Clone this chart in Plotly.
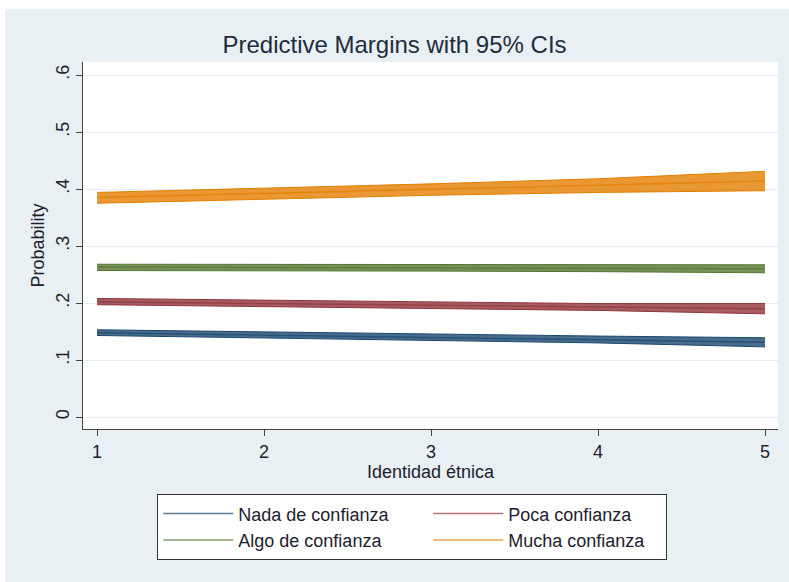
import plotly.graph_objects as go

# Data
x_vals = [1, 2, 3, 4, 5]
series_names = ["Nada de confianza", "Poca confianza", "Algo de confianza", "Mucha confianza"]
nada_mid = [0.148, 0.144, 0.140, 0.136, 0.131]
nada_lo = [0.143, 0.139, 0.135, 0.130, 0.123]
nada_hi = [0.153, 0.149, 0.145, 0.142, 0.139]
poca_mid = [0.202, 0.199, 0.196, 0.193, 0.190]
poca_lo = [0.197, 0.194, 0.191, 0.187, 0.181]
poca_hi = [0.208, 0.205, 0.202, 0.199, 0.199]
algo_mid = [0.263, 0.262, 0.262, 0.261, 0.260]
algo_lo = [0.257, 0.257, 0.256, 0.255, 0.253]
algo_hi = [0.268, 0.268, 0.267, 0.267, 0.267]
mucha_mid = [0.385, 0.392, 0.399, 0.406, 0.414]
mucha_lo = [0.375, 0.382, 0.389, 0.394, 0.397]
mucha_hi = [0.394, 0.401, 0.409, 0.418, 0.431]
y_tickvals = [0, 0.1, 0.2, 0.3, 0.4, 0.5, 0.6]
y_ticktext = ["0", ".1", ".2", ".3", ".4", ".5", ".6"]
x_tickvals = [1, 2, 3, 4, 5]

colors = [(26, 71, 111), (144, 53, 59), (85, 117, 47), (227, 126, 0)]
mids = [nada_mid, poca_mid, algo_mid, mucha_mid]
los = [nada_lo, poca_lo, algo_lo, mucha_lo]
his = [nada_hi, poca_hi, algo_hi, mucha_hi]
legend_widths = [None, 152, None, 152]

fig = go.Figure()
for name, c, mid, lo, hi in zip(series_names, colors, mids, los, his):
    rgb = "rgb(%d,%d,%d)" % c
    fig.add_trace(go.Scatter(x=x_vals, y=lo, mode="lines", line=dict(color=rgb, width=1),
                             showlegend=False, hoverinfo="skip"))
    fig.add_trace(go.Scatter(x=x_vals, y=hi, mode="lines", line=dict(color=rgb, width=1),
                             fill="tonexty", fillcolor="rgba(%d,%d,%d,0.8)" % c,
                             showlegend=False, hoverinfo="skip"))
for name, c, mid, lw in zip(series_names, colors, mids, legend_widths):
    kw = {}
    if lw is not None:
        kw["legendwidth"] = lw
    fig.add_trace(go.Scatter(x=x_vals, y=mid, mode="lines", name=name,
                             line=dict(color="rgba(%d,%d,%d,0.7)" % c, width=1.5), **kw))

W, H = 789, 582
L, T = 83, 62
pw, ph = 695, 367
R, B = W - L - pw, H - T - ph

def px2x(p):
    return (p - L) / pw

def py2y(p):
    return 1 - (p - T) / ph

bg = "#E8F0F3"
fig.add_shape(type="rect", xref="paper", yref="paper", layer="below",
              x0=px2x(5), x1=px2x(W + 20), y0=py2y(H + 20), y1=py2y(9),
              fillcolor=bg, line=dict(width=0))
fig.add_shape(type="rect", xref="paper", yref="paper", layer="below",
              x0=0, x1=1, y0=0, y1=1, fillcolor="white", line=dict(width=0))

font_family = "Liberation Sans, Arial, sans-serif"
txt = "#1e1e2e"
fig.update_layout(
    width=W, height=H,
    margin=dict(l=L, r=R, t=T, b=B, autoexpand=False),
    paper_bgcolor="white", plot_bgcolor="white",
    font=dict(family=font_family, size=18, color=txt),
    title=dict(text="Predictive Margins with 95% CIs", x=0.5, xref="container", xanchor="center",
               y=1 - 45 / H, yanchor="middle", font=dict(size=24, color="#1e2d3e")),
    xaxis=dict(range=[1 - 14 / 167, 5 + 13 / 167], tickvals=x_tickvals, showgrid=False,
               zeroline=False, showline=True, linecolor="#444", linewidth=1.2,
               ticks="outside", ticklen=6, tickcolor="#444",
               tickfont=dict(size=18, color=txt),
               title=dict(text="Identidad étnica", font=dict(size=18, color=txt), standoff=2)),
    yaxis=dict(range=[-12 / 570, 0.6 + 13 / 570], tickvals=y_tickvals, ticktext=y_ticktext,
               tickangle=-90, showgrid=True, gridcolor="#E6EEF1", gridwidth=1,
               zeroline=False, showline=True, linecolor="#444", linewidth=1.2,
               ticks="outside", ticklen=6, tickcolor="#444",
               tickfont=dict(size=18, color=txt),
               title=dict(text="Probability", font=dict(size=18, color=txt), standoff=3)),
    legend=dict(orientation="h", x=px2x(157), xanchor="left", y=py2y(494), yanchor="top",
                traceorder="normal",
                bgcolor="white", bordercolor="#333", borderwidth=1.3,
                font=dict(size=18, color=txt), entrywidth=185, tracegroupgap=0,
                itemwidth=70),
)

fig.write_html(
    "out.html",
    config={"displayModeBar": False},
    post_script="document.body.style.margin='0';"
                "document.documentElement.style.overflow='hidden';"
                "document.body.style.overflow='hidden';",
)
